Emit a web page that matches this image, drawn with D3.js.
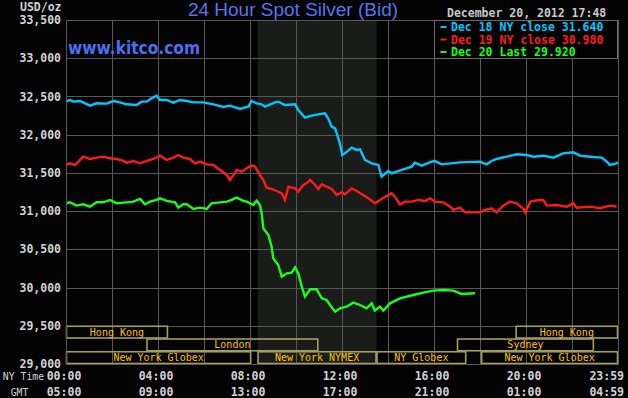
<!DOCTYPE html>
<html>
<head>
<meta charset="utf-8">
<script src="https://cdn.jsdelivr.net/npm/d3@7"></script>
<style>
  html, body { margin: 0; padding: 0; background: #000; }
  svg { display: block; }
</style>
</head>
<body>
<div id="chart"></div>
<script>
// -------------------- Data --------------------

// hours after midnight NY time, and the spot bid in USD/oz
const dec18Hours = [0, 0.17, 0.32, 0.61, 0.83, 1.04, 1.33, 1.77, 2.06, 2.35, 2.64, 3.07, 3.29, 3.51, 3.72, 3.94,
  4.09, 4.38, 4.67, 4.96, 5.25, 5.54, 5.97, 6.41, 6.84, 7.13, 7.57, 7.86, 7.93, 8.07, 8.29, 8.5, 8.65, 9.09, 9.23,
  9.52, 9.96, 10.1, 10.39, 10.68, 10.97, 11.26, 11.4, 11.55, 11.7, 11.91, 12.01, 12.13, 12.42, 12.64, 12.78, 13.0,
  13.29, 13.58, 13.72, 14.01, 14.16, 14.6, 15.03, 15.17, 15.46, 15.9, 16.04, 16.33, 17.13, 18.0, 18.29, 18.5, 18.72,
  19.16, 19.6, 20.03, 20.32, 20.75, 21.19, 21.62, 22.06, 22.35, 22.78, 23.29, 23.51, 23.65, 23.94, 24];
const dec18Prices = [32432, 32454, 32432, 32440, 32410, 32380, 32410, 32406, 32440, 32423, 32397, 32388, 32432, 32432, 32475, 32510,
  32454, 32454, 32419, 32454, 32440, 32423, 32423, 32397, 32362, 32380, 32336, 32362, 32366, 32440, 32410, 32397, 32366, 32423, 32432,
  32388, 32397, 32323, 32223, 32249, 32266, 32279, 32214, 32105, 32083, 31887, 31734, 31756, 31830, 31800, 31808, 31669,
  31625, 31604, 31451, 31525, 31494, 31538, 31582, 31634, 31595, 31647, 31656, 31612, 31638, 31647, 31612, 31656, 31682,
  31712, 31743, 31734, 31712, 31725, 31699, 31756, 31769, 31725, 31712, 31699, 31647, 31604, 31625, 31640];

const dec19Hours = [0, 0.17, 0.39, 0.61, 0.75, 1.04, 1.33, 1.62, 1.91, 2.2, 2.49, 2.64, 2.93, 3.22, 3.51, 3.8, 4.09,
  4.38, 4.67, 4.88, 5.1, 5.39, 5.61, 5.83, 6.12, 6.41, 6.7, 6.99, 7.13, 7.28, 7.42, 7.64, 7.86, 8.07, 8.22, 8.36, 8.58,
  8.72, 8.94, 9.16, 9.38, 9.52, 9.67, 9.96, 10.1, 10.32, 10.46, 10.61, 10.83, 10.97, 11.12, 11.33, 11.55, 11.77, 11.99,
  12.13, 12.42, 12.64, 12.86, 13.14, 13.43, 13.72, 14.01, 14.16, 14.3, 14.52, 14.74, 15.03, 15.32, 15.61, 15.83, 16.04,
  16.4, 16.7, 16.84, 17.13, 17.35, 18.0, 18.22, 18.51, 18.72, 19.01, 19.3, 19.59, 19.9, 19.97, 20.19, 20.55, 20.75,
  20.9, 21.33, 21.77, 22.06, 22.2, 22.78, 23.22, 23.65, 23.94];
const dec19Prices = [31603, 31625, 31603, 31669, 31712, 31682, 31699, 31712, 31691, 31682, 31656, 31634, 31656, 31625, 31656, 31682, 31725,
  31669, 31699, 31734, 31699, 31682, 31625, 31647, 31612, 31603, 31538, 31473, 31407, 31473, 31538, 31516, 31560, 31595, 31582, 31508, 31407,
  31307, 31290, 31263, 31233, 31146, 31320, 31298, 31255, 31342, 31364, 31407, 31342, 31290, 31351, 31320, 31290, 31211, 31246,
  31220, 31298, 31263, 31220, 31167, 31102, 31159, 31211, 31233, 31189, 31089, 31124, 31124, 31146, 31133, 31167, 31124,
  31115, 31058, 31015, 31045, 30984, 30984, 31015, 31037, 30984, 31072, 31124, 31102, 31028, 30984, 31124, 31146, 31146,
  31072, 31080, 31058, 31102, 31045, 31058, 31037, 31072, 31058];

const dec20Hours = [0, 0.17, 0.46, 0.75, 1.04, 1.33, 1.62, 1.91, 2.2, 2.64, 2.93, 3.22, 3.43, 3.65, 3.94, 4.09, 4.38,
  4.74, 4.88, 5.1, 5.25, 5.54, 5.83, 6.12, 6.33, 6.7, 6.99, 7.2, 7.42, 7.71, 7.86, 8.14, 8.29, 8.43, 8.51, 8.58, 8.8,
  8.94, 9.01, 9.23, 9.38, 9.6, 9.81, 9.96, 10.1, 10.25, 10.39, 10.61, 10.9, 11.12, 11.33, 11.48, 11.7, 11.91, 12.2,
  12.49, 12.78, 13.07, 13.29, 13.43, 13.65, 13.8, 14.09, 14.52, 15.1, 15.54, 15.97, 16.4, 16.84, 17.2, 17.78];
const dec20Prices = [31102, 31115, 31072, 31089, 31058, 31115, 31115, 31146, 31102, 31115, 31124, 31159, 31089, 31124, 31146, 31167, 31133,
  31115, 31045, 31089, 31089, 31028, 31045, 31028, 31102, 31115, 31124, 31146, 31176, 31133, 31124, 31080, 31137, 31080, 30971, 30775, 30688,
  30535, 30383, 30295, 30143, 30186, 30195, 30265, 30186, 30012, 29881, 29977, 29977, 29859, 29838, 29772, 29685, 29729, 29750,
  29803, 29772, 29729, 29794, 29698, 29750, 29698, 29794, 29859, 29903, 29934, 29960, 29968, 29960, 29916, 29925];

const seriesNames = ["Dec 18 NY close 31.640", "Dec 19 NY close 30.980", "Dec 20 Last 29.920"];
const seriesColors = ["#00c8ff", "#ff1a1a", "#18ff18"];

const nyTickLabels = ["00:00", "04:00", "08:00", "12:00", "16:00", "20:00", "23:59"];
const gmtTickLabels = ["05:00", "09:00", "13:00", "17:00", "21:00", "01:00", "04:59"];

// trading sessions: row 0 = top, start/end in NY hours
const sessionNames = ["Hong Kong", "Hong Kong", "London", "Sydney", "New York Globex", "New York NYMEX", "NY Globex", "New York Globex"];
const sessionRows = [0, 0, 1, 1, 2, 2, 2, 2];
const sessionStarts = [0, 19.55, 3.5, 17.0, 0, 8.33, 13.5, 18.05];
const sessionEnds = [4.43, 24, 10.97, 22.95, 8.05, 13.5, 17.4, 24];

// -------------------- Chart --------------------

const WIDTH = 628;
const HEIGHT = 398;
const MONO = "'DejaVu Sans Mono', 'Liberation Mono', monospace";

const svg = d3.select("#chart")
  .append("svg")
  .attr("width", WIDTH)
  .attr("height", HEIGHT)
  .attr("viewBox", [0, 0, WIDTH, HEIGHT]);

svg.append("rect").attr("width", WIDTH).attr("height", HEIGHT).attr("fill", "#030303");

const x = d3.scaleLinear().domain([0, 24]).range([66, 618]);
const y = d3.scaleLinear().domain([29000, 33500]).range([364, 20]);

// NYMEX hours shading
svg.append("rect")
  .attr("x", x(8.33))
  .attr("y", y(33500))
  .attr("width", x(13.5) - x(8.33))
  .attr("height", y(29000) - y(33500))
  .attr("fill", "#1a1c1a");

// grid
const grid = svg.append("g").attr("stroke", "#585858").attr("stroke-width", 1);
grid.selectAll(".h")
  .data(d3.range(29000, 33501, 500))
  .join("line")
  .attr("x1", x(0)).attr("x2", x(24))
  .attr("y1", d => Math.round(y(d)) + 0.5)
  .attr("y2", d => Math.round(y(d)) + 0.5);
grid.selectAll(".v")
  .data(d3.range(0, 25, 2))
  .join("line")
  .attr("class", "v")
  .attr("y1", y(33500)).attr("y2", y(29000))
  .attr("x1", d => Math.round(x(d)) + 0.5)
  .attr("x2", d => Math.round(x(d)) + 0.5);

// session boxes
const rowBand = d3.scaleBand().domain([0, 1, 2]).range([y(29500), y(29000)]);
const sessions = svg.append("g");
sessions.selectAll("rect")
  .data(sessionNames)
  .join("rect")
  .attr("x", (d, i) => x(sessionStarts[i]) + 0.5)
  .attr("y", (d, i) => rowBand(sessionRows[i]) + 0.5)
  .attr("width", (d, i) => x(sessionEnds[i]) - x(sessionStarts[i]) - 1)
  .attr("height", rowBand.bandwidth() - 1)
  .attr("fill", "none")
  .attr("stroke", "#a39d62")
  .attr("stroke-width", 1.6);
sessions.selectAll("text")
  .data(sessionNames)
  .join("text")
  .attr("x", (d, i) => (x(sessionStarts[i]) + x(sessionEnds[i])) / 2)
  .attr("y", (d, i) => rowBand(sessionRows[i]) + rowBand.bandwidth() / 2)
  .attr("dy", "0.36em")
  .attr("text-anchor", "middle")
  .attr("font-family", MONO)
  .attr("font-size", 10)
  .attr("fill", "#ffc400")
  .text(d => d);

// price lines
const line = d3.line().x(d => x(d[0])).y(d => y(d[1]));
const series = [
  d3.zip(dec18Hours, dec18Prices),
  d3.zip(dec19Hours, dec19Prices),
  d3.zip(dec20Hours, dec20Prices)
];
svg.append("g")
  .attr("fill", "none")
  .attr("stroke-width", 2.4)
  .attr("stroke-linejoin", "miter")
  .selectAll("path")
  .data(series)
  .join("path")
  .attr("stroke", (d, i) => seriesColors[i])
  .attr("d", line);

// frame
svg.append("rect")
  .attr("x", x(0) + 0.5).attr("y", y(33500) + 0.5)
  .attr("width", x(24) - x(0)).attr("height", y(29000) - y(33500))
  .attr("fill", "none").attr("stroke", "#585858");

// y axis labels
svg.append("g")
  .attr("font-family", MONO)
  .attr("font-size", 11.5)
  .attr("font-weight", "bold")
  .attr("fill", "#d2d2d2")
  .attr("text-anchor", "end")
  .selectAll("text")
  .data(d3.range(29000, 33501, 500))
  .join("text")
  .attr("x", 61)
  .attr("y", d => y(d))
  .attr("dy", "0.36em")
  .text(d => d3.format(",")(d));

svg.append("text")
  .attr("x", 20).attr("y", 11)
  .attr("font-family", MONO).attr("font-size", 11.5).attr("font-weight", "bold")
  .attr("fill", "#d2d2d2")
  .text("USD/oz");

// x axis labels
const xLabelHours = [0, 4, 8, 12, 16, 20, 24];
const xLabels = svg.append("g")
  .attr("font-family", MONO)
  .attr("font-size", 11.5)
  .attr("font-weight", "bold")
  .attr("fill", "#d2d2d2");
[[nyTickLabels, 380], [gmtTickLabels, 395.5]].forEach(([labels, baseY]) => {
  xLabels.append("g").selectAll("text")
    .data(labels)
    .join("text")
    .attr("x", (d, i) => i === labels.length - 1 ? 624 : x(xLabelHours[i]) - 2)
    .attr("y", baseY)
    .attr("text-anchor", (d, i) => i === labels.length - 1 ? "end" : "middle")
    .text(d => d);
});
svg.append("text")
  .attr("x", 23.5).attr("y", 380).attr("text-anchor", "middle")
  .attr("font-family", MONO).attr("font-size", 9.8).attr("fill", "#d2d2d2")
  .text("NY Time");
svg.append("text")
  .attr("x", 19.5).attr("y", 395.5).attr("text-anchor", "middle")
  .attr("font-family", MONO).attr("font-size", 9.8).attr("fill", "#d2d2d2")
  .text("GMT");

// titles
svg.append("text")
  .attr("x", 293).attr("y", 16)
  .attr("text-anchor", "middle")
  .attr("font-family", "'Liberation Sans', Arial, sans-serif")
  .attr("font-size", 19)
  .attr("fill", "#5574f0")
  .text("24 Hour Spot Silver (Bid)");

svg.append("text")
  .attr("x", 68).attr("y", 54)
  .attr("font-family", "'DejaVu Sans', sans-serif")
  .attr("font-size", 18)
  .attr("font-weight", "bold")
  .attr("textLength", 132)
  .attr("lengthAdjust", "spacingAndGlyphs")
  .attr("fill", "#4c6ff0")
  .text("www.kitco.com");

svg.append("text")
  .attr("x", 447).attr("y", 17)
  .attr("font-family", MONO).attr("font-size", 11.5).attr("font-weight", "bold")
  .attr("fill", "#c8c8c8")
  .text("December 20, 2012 17:48");

// legend
const legend = svg.append("g");
legend.append("rect")
  .attr("x", 434.5).attr("y", y(33500) + 0.5)
  .attr("width", 183).attr("height", 38)
  .attr("fill", "#030303").attr("stroke", "#6a6a6a");
const legendRows = legend.selectAll("g")
  .data(seriesNames)
  .join("g")
  .attr("transform", (d, i) => `translate(0, ${31 + i * 12.5})`);
legendRows.append("rect")
  .attr("x", 440.5).attr("y", -5)
  .attr("width", 6).attr("height", 2)
  .attr("fill", (d, i) => seriesColors[i]);
legendRows.append("text")
  .attr("x", 451)
  .attr("font-family", MONO).attr("font-size", 11.5).attr("font-weight", "bold")
  .attr("fill", (d, i) => seriesColors[i])
  .text(d => d);
</script>
</body>
</html>
